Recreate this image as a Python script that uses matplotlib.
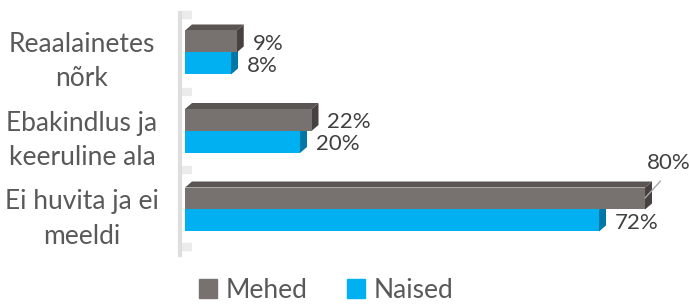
import matplotlib.pyplot as plt
from matplotlib.patches import Polygon, Patch

# data
categories = ["Reaalainetes\nnõrk", "Ebakindlus ja\nkeeruline ala", "Ei huvita ja ei\nmeeldi"]
mehed = [9, 22, 80]
naised = [8, 20, 72]
series_names = ["Mehed", "Naised"]

# colours: front, top, side
gray = ("#77716f", "#5a5553", "#47423f")
blue = ("#00b0f0", "#0090c8", "#0077a6")

plt.rcParams['font.family'] = ['Lato', 'DejaVu Sans']

fig = plt.figure(figsize=(6.9, 3.04), dpi=100)
ax = fig.add_axes([185 / 690, 54 / 304, 505 / 690, 240 / 304])
ax.set_xlim(0, 505 / 5.75)
ax.set_ylim(2.516, -0.541)
ax.axis("off")

h = 0.28
dx = 7 / 5.75      # depth in x (data units)
dy = 6 / 78.5      # depth in y (data units)


def bar3d(y_top, val, cols, z):
    y_bot = y_top + h
    ax.add_patch(Polygon([(val, y_top), (val + dx, y_top - dy), (val + dx, y_bot - dy), (val, y_bot)],
                         closed=True, fc=cols[2], ec="none", zorder=z))
    ax.add_patch(Polygon([(0, y_top), (val, y_top), (val + dx, y_top - dy), (dx, y_top - dy)],
                         closed=True, fc=cols[1], ec="none", zorder=z))
    ax.barh(y_top + h / 2, val, height=h, color=cols[0], zorder=z + 0.5)


for i in range(len(categories)):
    bar3d(i, naised[i], blue, 2)
    bar3d(i - h, mehed[i], gray, 3)

# axis wall line
ax.plot([-0.87, -0.87], [-0.5, 2.58], color="#dedede", lw=3, clip_on=False, zorder=1)
for yy in [-0.48, 0.5, 1.5, 2.48]:
    ax.plot([-0.5, 1.2], [yy, yy], color="#bfbfbf", lw=6, alpha=0.3,
            solid_capstyle="butt", clip_on=False, zorder=1)

# category labels, one text per line so each line is centred
for i, cat in enumerate(categories):
    for j, line in enumerate(cat.split("\n")):
        base = 52 + 78.5 * i + 34.5 * j
        fig.text(82 / 690, 1 - base / 304, line, ha="center", va="baseline",
                 fontsize=19, color="#595959")

# data labels
lab_kw = dict(fontsize=16, color="#404040", va="center", ha="left")
for i in range(len(categories)):
    if mehed[i] >= 50:
        ax.annotate(f"{mehed[i]}%", xy=(mehed[i], i - 0.146),
                    xytext=(mehed[i] + 0.3, i - 0.59), textcoords="data",
                    arrowprops=dict(arrowstyle="-", color="#a6a6a6", lw=1,
                                    relpos=(0.48, 0.0), shrinkA=5, shrinkB=0),
                    zorder=6, **lab_kw)
    else:
        ax.text(mehed[i] + dx + 1.5, i - h / 2 + 0.03, f"{mehed[i]}%", **lab_kw)
    ax.text(naised[i] + dx + 1.5, i + h / 2 + 0.03, f"{naised[i]}%", **lab_kw)

# legend
handles = [Patch(color=gray[0], label=series_names[0]), Patch(color=blue[0], label=series_names[1])]
fig.legend(handles=handles, loc="center", bbox_to_anchor=(326 / 690, 1 - 290 / 304), ncol=2,
           frameon=False, fontsize=19, labelcolor="#595959", handlelength=0.7, handleheight=0.7,
           handletextpad=0.3, columnspacing=1.5, borderpad=0.1)

fig.savefig("out.png", dpi=100)
